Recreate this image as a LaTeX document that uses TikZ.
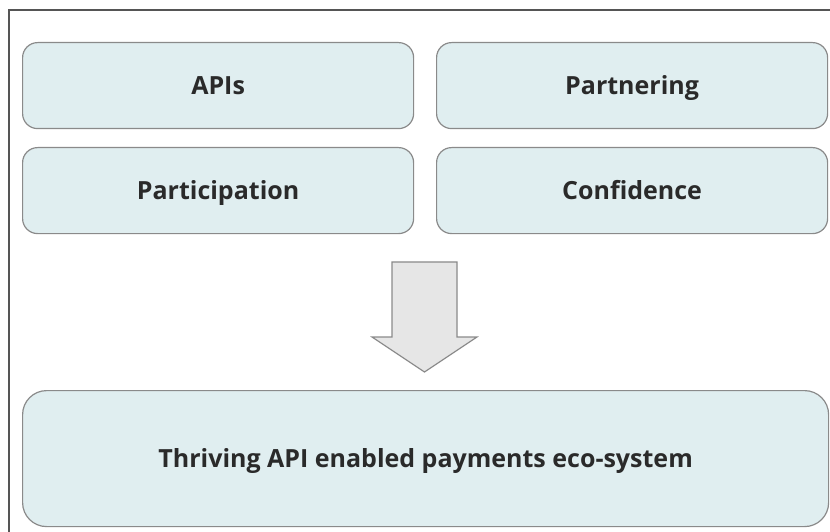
\documentclass[tikz,border=0pt]{standalone}
\usepackage{fontspec}
\setmainfont{Open Sans}
\definecolor{boxfill}{HTML}{E0EEF0}
\definecolor{boxline}{HTML}{8A8A8A}
\definecolor{arrowfill}{HTML}{E6E6E6}
\definecolor{frameline}{HTML}{555555}
\definecolor{textcol}{HTML}{2A2A2A}
\begin{document}
\begin{tikzpicture}[x=1bp,y=-1bp,
  pillar/.style={draw=boxline,line width=1.2bp,fill=boxfill,rounded corners=15bp,
    minimum width=391bp,minimum height=86bp,inner sep=0pt,anchor=north west,
    text height=17.8bp,text depth=0pt,
    font=\bfseries\fontsize{25bp}{29bp}\selectfont,text=textcol},
  outcome/.style={pillar,rounded corners=24bp,minimum width=806bp,minimum height=136bp}]
\useasboundingbox (0,0) rectangle (830,532);
% outer frame, running past the page edges
\draw[frameline,line width=1.2bp] (9,540) -- (9,10) -- (840,10);
% the four pillars
\node[pillar] (apis) at (22,42) {APIs};
\node[pillar] (partnering) at (436,42) {Partnering};
\node[pillar] (participation) at (22,147) {Participation};
\node[pillar] (confidence) at (436,147) {Confidence};
% the result
\node[outcome] (result) at (22,390) {Thriving API enabled payments eco-system};
% block arrow pointing down
\draw[boxline,fill=arrowfill,line width=1.2bp]
  (392,262) -- (457,262) -- (457,337) -- (477,337) -- (424.5,372)
  -- (372,337) -- (392,337) -- cycle;
\end{tikzpicture}
\end{document}
